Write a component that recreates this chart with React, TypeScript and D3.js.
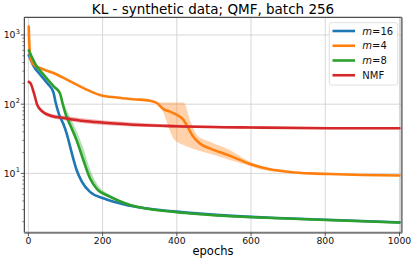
import * as d3 from "d3";

// m=16
const m16Epochs = [1, 15, 33, 51, 67, 74, 83, 94, 103, 117, 130, 144, 166, 202, 274, 400, 462, 642, 822, 1000];
const m16Values = [515, 348, 263, 200, 151, 103, 70, 52, 38, 19.6, 11.2, 7.6, 5.4, 4.37, 3.4, 2.8, 2.62, 2.3, 2.12, 1.96];
const m16Upper = [515, 350, 265, 202, 153, 108, 75, 56, 41, 21.5, 12.2, 8.1, 5.6, 4.45, 3.45, 2.84, 2.66, 2.33, 2.14, 1.98];
const m16Lower = [515, 346, 261, 198, 149, 98, 66, 48, 35, 18, 10.4, 7.2, 5.2, 4.3, 3.35, 2.76, 2.58, 2.27, 2.1, 1.94];

// m=4
const m4Epochs = [1, 2, 6, 15, 33, 69, 105, 150, 195, 238, 282, 328, 346, 364, 382, 400, 418, 431, 444, 462, 489, 543, 597, 651, 705, 759, 813, 900, 1000];
const m4Values = [1320, 850, 460, 370, 330, 280, 224, 169, 135, 125, 118, 112, 104, 85, 78, 70, 59, 45, 34, 27, 23, 18, 13.7, 11.5, 10.5, 10, 9.8, 9.5, 9.3];
const m4BandEpochs = [340, 350, 364, 378, 391, 418, 436, 454, 489, 543, 588, 633, 678, 720];
const m4Upper = [110, 106, 106, 106, 106, 106, 58, 36, 28.7, 21.8, 15.6, 12.5, 10.8, 10.3];
const m4Lower = [110, 102, 75, 46, 32, 25.7, 23.5, 21.8, 19.2, 15.6, 13.2, 11.2, 10.4, 10.1];

// m=8
const m8Epochs = [1, 20, 42, 69, 85, 92, 101, 114, 130, 148, 166, 184, 220, 274, 400, 462, 642, 822, 1000];
const m8Values = [600, 370, 263, 179, 144, 103, 70, 48, 30, 15.6, 8.5, 6.0, 4.6, 3.5, 2.75, 2.57, 2.28, 2.1, 1.95];
const m8Upper = [600, 372, 265, 181, 146, 118, 88, 62, 41, 23, 11.5, 7.2, 4.9, 3.6, 2.8, 2.6, 2.31, 2.12, 1.97];
const m8Lower = [600, 368, 261, 177, 142, 100, 67, 45, 28, 14.8, 8.1, 5.8, 4.5, 3.44, 2.71, 2.54, 2.25, 2.08, 1.93];

// NMF
const nmfEpochs = [1, 6, 15, 24, 38, 60, 96, 150, 204, 301, 400, 600, 813, 1000];
const nmfValues = [211, 200, 144, 97, 78, 68, 63, 57, 54, 50, 48, 46, 45, 45];
const nmfUpper = [211, 205, 150, 102, 83, 73, 68, 62, 58, 53.5, 50.5, 47.8, 46.5, 46.5];
const nmfLower = [211, 195, 138, 92, 74, 63.5, 58.5, 53, 50, 47, 45.5, 44.2, 43.6, 43.6];

const xTicks = [0, 200, 400, 600, 800, 1000];
const yTicks = [10, 100, 1000];
const legendLabels = ["16", "4", "8", "NMF"];
const colors = ["#1f77b4", "#ff7f0e", "#2ca02c", "#d62728"];

const W = 415;
const H = 263;
const left = 24.3;
const right = 401.7;
const top = 17.3;
const bottom = 232.7;

const x = d3.scaleLinear().domain([-11, 1006]).range([left, right]);
const y = d3.scaleLog().domain([1.39, 1800]).range([bottom, top]);

const lineGen = (ep: number[]) =>
  d3
    .line<number>()
    .x((_, i) => x(ep[i]))
    .y((d) => y(d))
    .curve(d3.curveMonotoneX);

const bandGen = (ep: number[], lo: number[]) =>
  d3
    .area<number>()
    .x((_, i) => x(ep[i]))
    .y0((_, i) => y(lo[i]))
    .y1((d) => y(d))
    .curve(d3.curveMonotoneX);

const series = [
  { ep: m16Epochs, v: m16Values, bEp: m16Epochs, up: m16Upper, lo: m16Lower, c: colors[0] },
  { ep: m4Epochs, v: m4Values, bEp: m4BandEpochs, up: m4Upper, lo: m4Lower, c: colors[1] },
  { ep: m8Epochs, v: m8Values, bEp: m8Epochs, up: m8Upper, lo: m8Lower, c: colors[2] },
  { ep: nmfEpochs, v: nmfValues, bEp: nmfEpochs, up: nmfUpper, lo: nmfLower, c: colors[3] },
];

const font = "DejaVu Sans, sans-serif";

export default function App() {
  const minor: number[] = [];
  [1, 10, 100, 1000].forEach((d) => {
    for (let k = 2; k <= 9; k++) {
      const v = d * k;
      if (v >= 1.39 && v <= 1800) minor.push(v);
    }
  });

  return (
    <svg
      width={W}
      height={H}
      style={{ position: "absolute", left: 0, top: 0, background: "#fff" }}
      fontFamily={font}
    >
      <rect x={0} y={0} width={W} height={H} fill="#fff" />
      <text x={213} y={13.5} textAnchor="middle" fontSize={13.5} fill="#000">
        KL - synthetic data; QMF, batch 256
      </text>

      {/* grid */}
      {xTicks.map((t) => (
        <line key={"gx" + t} x1={x(t)} x2={x(t)} y1={top} y2={bottom} stroke="#d3d3d3" strokeWidth={0.9} />
      ))}
      {yTicks.map((t) => (
        <line key={"gy" + t} x1={left} x2={right} y1={y(t)} y2={y(t)} stroke="#d3d3d3" strokeWidth={0.9} />
      ))}

      {/* bands */}
      {series.map((s, i) => (
        <path key={"b" + i} d={bandGen(s.bEp, s.lo)(s.up) || ""} fill={s.c} fillOpacity={0.35} stroke="none" />
      ))}
      {/* lines */}
      {series.map((s, i) => (
        <path
          key={"l" + i}
          d={lineGen(s.ep)(s.v) || ""}
          fill="none"
          stroke={s.c}
          strokeWidth={2.6}
          strokeLinejoin="round"
          strokeLinecap="round"
        />
      ))}

      {/* spines */}
      <line x1={left} x2={right} y1={top} y2={top} stroke="#222" strokeWidth={1} />
      <line x1={left} x2={left} y1={top} y2={bottom} stroke="#222" strokeWidth={1} />
      <line x1={left} x2={right + 0.5} y1={bottom} y2={bottom} stroke="#7a7a7a" strokeWidth={2} />
      <line x1={right} x2={right} y1={top} y2={bottom} stroke="#7a7a7a" strokeWidth={2} />

      {/* x ticks */}
      {xTicks.map((t) => (
        <g key={"xt" + t}>
          <line x1={x(t)} x2={x(t)} y1={bottom} y2={bottom + 3.5} stroke="#333" strokeWidth={0.8} />
          <text x={x(t)} y={244} textAnchor="middle" fontSize={9.3} fill="#111">
            {t}
          </text>
        </g>
      ))}
      <text x={(left + right) / 2} y={254.5} textAnchor="middle" fontSize={11.5} fill="#000">
        epochs
      </text>

      {/* y ticks */}
      {yTicks.map((t) => (
        <g key={"yt" + t}>
          <line x1={left - 3.5} x2={left} y1={y(t)} y2={y(t)} stroke="#333" strokeWidth={0.8} />
          <text x={15.5} y={y(t) + 3.4} textAnchor="end" fontSize={9.3} fill="#111">
            10
          </text>
          <text x={15.8} y={y(t) - 1.2} textAnchor="start" fontSize={6.6} fill="#111">
            {Math.round(Math.log10(t))}
          </text>
        </g>
      ))}
      {minor.map((t) => (
        <line key={"ym" + t} x1={left - 2} x2={left} y1={y(t)} y2={y(t)} stroke="#333" strokeWidth={0.6} />
      ))}

      {/* legend */}
      <rect x={329.3} y={22.7} width={68.4} height={62.3} rx={2} fill="#fff" fillOpacity={0.85} stroke="#d8d8d8" strokeWidth={0.8} />
      {legendLabels.map((lab, i) => {
        const cy = 31 + i * 14.75;
        return (
          <g key={"lg" + i}>
            <line x1={332.5} x2={355} y1={cy} y2={cy} stroke={colors[i]} strokeWidth={2.6} />
            {lab === "NMF" ? (
              <text x={362.3} y={cy + 3.6} fontSize={10} fill="#111">
                NMF
              </text>
            ) : (
              <text x={362.3} y={cy + 3.6} fontSize={10} fill="#111">
                <tspan fontStyle="italic">m</tspan>={lab}
              </text>
            )}
          </g>
        );
      })}
    </svg>
  );
}
